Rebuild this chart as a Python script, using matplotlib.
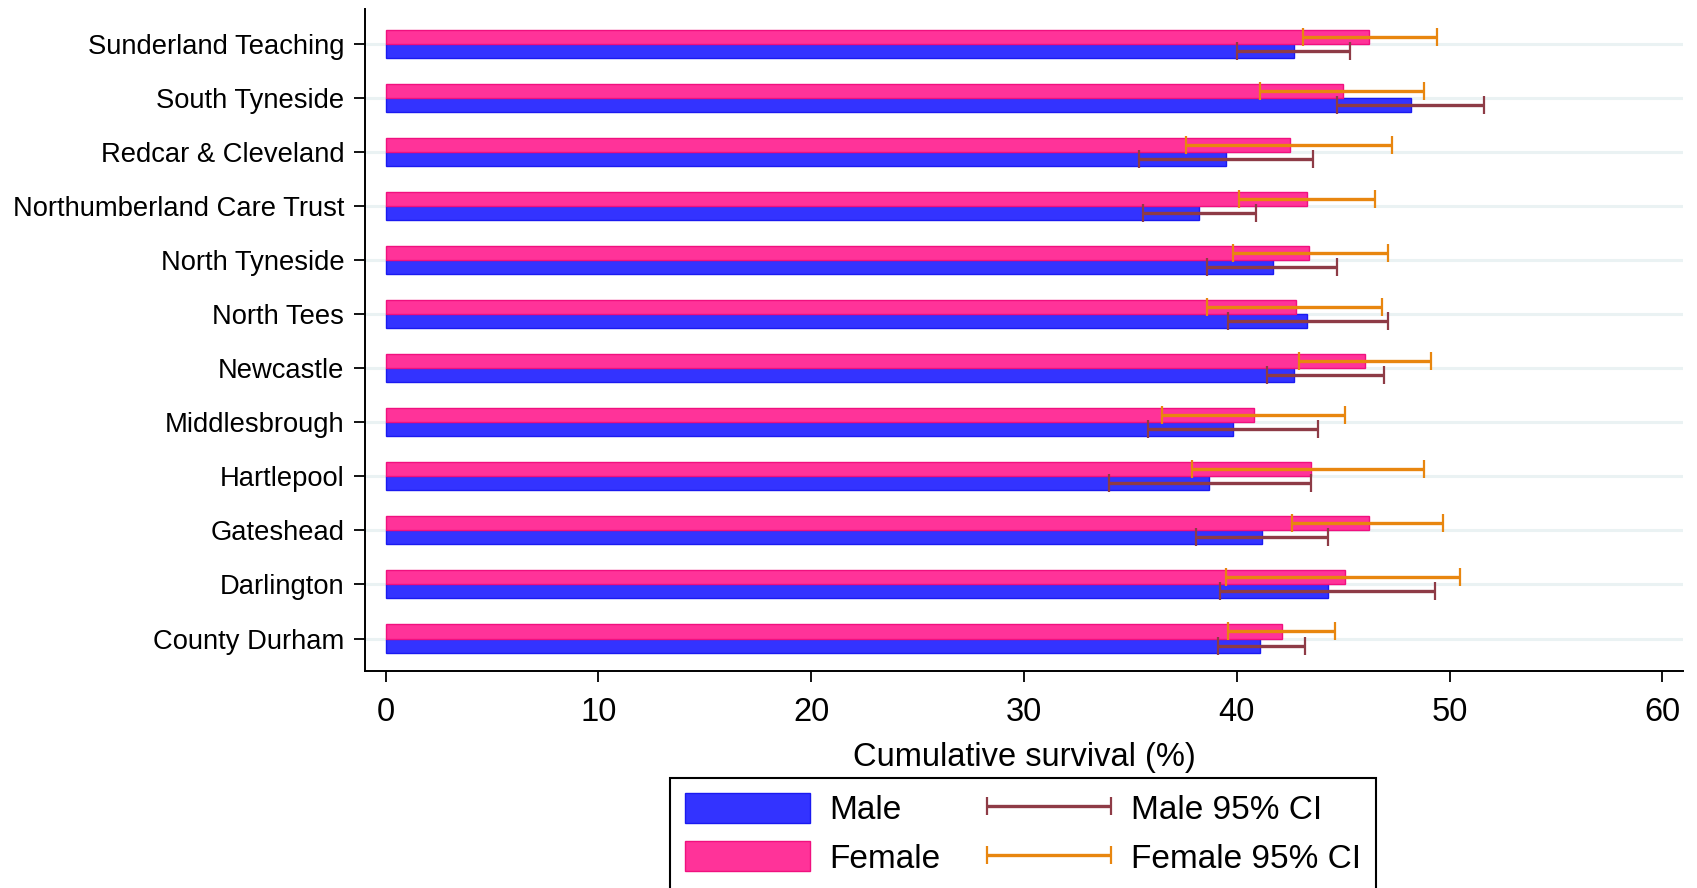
import matplotlib
matplotlib.use("Agg")
import matplotlib.pyplot as plt
import numpy as np
from matplotlib.legend_handler import HandlerErrorbar
from matplotlib.container import ErrorbarContainer

plt.rcParams['font.family'] = ['Liberation Sans', 'DejaVu Sans']

categories = ["County Durham", "Darlington", "Gateshead", "Hartlepool", "Middlesbrough",
              "Newcastle", "North Tees", "North Tyneside", "Northumberland Care Trust",
              "Redcar & Cleveland", "South Tyneside", "Sunderland Teaching"]
male = [41.1, 44.3, 41.2, 38.7, 39.8, 42.7, 43.3, 41.7, 38.2, 39.5, 48.2, 42.7]
male_lo = [39.1, 39.2, 38.1, 34.0, 35.8, 41.4, 39.6, 38.6, 35.6, 35.4, 44.7, 40.0]
male_hi = [43.2, 49.3, 44.3, 43.5, 43.8, 46.9, 47.1, 44.7, 40.9, 43.6, 51.6, 45.3]
female = [42.1, 45.1, 46.2, 43.5, 40.8, 46.0, 42.8, 43.4, 43.3, 42.5, 45.0, 46.2]
female_lo = [39.6, 39.5, 42.6, 37.9, 36.5, 42.9, 38.6, 39.8, 40.1, 37.6, 41.1, 43.1]
female_hi = [44.6, 50.5, 49.7, 48.8, 45.1, 49.1, 46.8, 47.1, 46.5, 47.3, 48.8, 49.4]
xticks = [0, 10, 20, 30, 40, 50, 60]

c_male = "#3333FF"
c_female = "#FF3399"
c_male_ci = "#8E3B46"
c_female_ci = "#E8860F"

fig = plt.figure(figsize=(16.97, 8.88), dpi=100)
ax = fig.add_axes([0.2151, 0.2444, 0.9917 - 0.2151, 0.9899 - 0.2444])

pos = np.arange(len(categories))
h = 0.26
m = np.array(male); f = np.array(female)
bm = ax.barh(pos - h / 2, m, height=h, color=c_male, edgecolor="#1A1AF0", linewidth=1.0,
             label="Male", zorder=2)
bf = ax.barh(pos + h / 2, f, height=h, color=c_female, edgecolor="#F0107F", linewidth=1.0,
             label="Female", zorder=2)
em = ax.errorbar(m, pos - h / 2, xerr=[m - np.array(male_lo), np.array(male_hi) - m],
                 fmt='none', ecolor=c_male_ci, elinewidth=2.4, capsize=6.3, capthick=1.6,
                 label="Male 95% CI", zorder=3)
ef = ax.errorbar(f, pos + h / 2, xerr=[f - np.array(female_lo), np.array(female_hi) - f],
                 fmt='none', ecolor=c_female_ci, elinewidth=2.4, capsize=6.3, capthick=1.6,
                 label="Female 95% CI", zorder=3)

ax.set_xlim(-0.97, 60.96)
ax.set_ylim(-0.6, 11.64)
ax.set_yticks(pos)
ax.set_yticklabels(categories, fontsize=19.7)
ax.set_xticks(xticks)
ax.set_xticklabels([str(t) for t in xticks], fontsize=23.5)
ax.set_xlabel("Cumulative survival (%)", fontsize=23.5, labelpad=10)
ax.grid(axis='y', color="#EAF2F3", linewidth=2.2, zorder=0)
ax.set_axisbelow(True)
for s in ['top', 'right']:
    ax.spines[s].set_visible(False)
for s in ['left', 'bottom']:
    ax.spines[s].set_linewidth(1.4)
ax.tick_params(axis='both', direction='out', length=8, width=1.3)
ax.tick_params(axis='y', pad=7)
ax.tick_params(axis='x', pad=11)

leg = ax.legend(handles=[bm, bf, em, ef], ncol=2, loc='upper center',
                bbox_to_anchor=(0.603, 1 - 778 / 888), bbox_transform=fig.transFigure,
                fontsize=24, frameon=True, fancybox=False, edgecolor='black',
                framealpha=1, handlelength=3.73, handleheight=1.0, handletextpad=0.59,
                columnspacing=1.4, borderpad=0.45, labelspacing=0.45, borderaxespad=0,
                handler_map={ErrorbarContainer: HandlerErrorbar(xerr_size=1.86)})
leg.get_frame().set_linewidth(1.5)

fig.savefig("out.png", dpi=100)
